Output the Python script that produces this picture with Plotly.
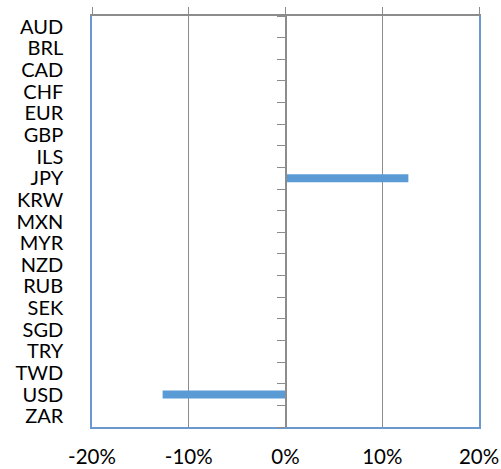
import plotly.graph_objects as go

currencies = ["AUD", "BRL", "CAD", "CHF", "EUR", "GBP", "ILS", "JPY", "KRW", "MXN",
              "MYR", "NZD", "RUB", "SEK", "SGD", "TRY", "TWD", "USD", "ZAR"]
values = [0, 0, 0, 0, 0, 0, 0, 0.127, 0, 0, 0, 0, 0, 0, 0, 0, 0, -0.127, 0]
x_ticks = [-0.2, -0.1, 0, 0.1, 0.2]
x_labels = ["-20%", "-10%", "0%", "10%", "20%"]

BLUE = "#5B9BD5"
BORDER = "#6A98CF"
GRAY = "#8C8C8C"
XFONT = dict(family="Lato, Calibri, sans-serif", size=20.5, color="#000000")
YFONT = dict(family="Lato, Calibri, sans-serif", size=20, color="#000000")

fig = go.Figure()
fig.add_trace(go.Bar(x=values, y=currencies, orientation="h",
                     marker=dict(color=BLUE, line=dict(width=0)),
                     width=0.37, showlegend=False, hoverinfo="skip"))
# invisible helper trace for the overlay axes (0-line axis and top axis)
fig.add_trace(go.Scatter(x=[0] * len(currencies), y=currencies, xaxis="x2", yaxis="y2",
                         mode="markers", marker=dict(opacity=0), showlegend=False,
                         hoverinfo="skip"))

fig.update_layout(
    width=501, height=469,
    margin=dict(l=92, r=22, t=16, b=42, autoexpand=False),
    paper_bgcolor="white", plot_bgcolor="white",
    font=XFONT,
    xaxis=dict(range=[-0.2, 0.2], tickvals=x_ticks, ticktext=x_labels,
               showgrid=True, gridcolor=GRAY, gridwidth=1, zeroline=False,
               showline=True, linecolor=BORDER, linewidth=1.5, mirror=True,
               ticks="", ticklabelstandoff=11, tickfont=XFONT, fixedrange=True,
               automargin=False),
    yaxis=dict(type="category", categoryorder="array", categoryarray=currencies,
               tickmode="array", tickvals=currencies, ticktext=currencies,
               range=[len(currencies) - 0.5, -0.5], showgrid=False, zeroline=False,
               showline=True, linecolor=BORDER, linewidth=1.5, mirror=True,
               ticks="", ticklabelstandoff=23, tickfont=YFONT, automargin=False),
    xaxis2=dict(overlaying="x", side="top", anchor="y", range=[-0.2, 0.2],
                tickvals=x_ticks, showticklabels=False, showgrid=False, zeroline=False,
                showline=True, linecolor=GRAY, linewidth=1.5,
                ticks="outside", ticklen=7, tickcolor=GRAY, tickwidth=1,
                automargin=False),
    yaxis2=dict(overlaying="y", type="category", categoryorder="array",
                categoryarray=currencies, range=[len(currencies) - 0.5, -0.5],
                tickmode="array", tickvals=currencies,
                anchor="free", position=0.5, side="left",
                showticklabels=False, showgrid=False, zeroline=False,
                showline=True, linecolor=GRAY, linewidth=1.5,
                ticks="outside", ticklen=8, tickcolor=GRAY, tickwidth=1,
                tickson="boundaries", automargin=False),
)

fig.write_html("out.html")
